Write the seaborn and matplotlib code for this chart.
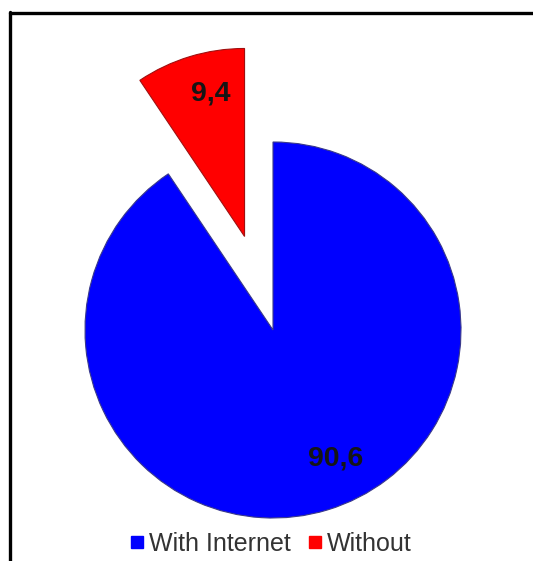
import numpy as np
import matplotlib
matplotlib.use("Agg")
import matplotlib.pyplot as plt
from matplotlib.lines import Line2D
import seaborn as sns

categories = ["With Internet", "Without"]
values = [90.6, 9.4]
colors = ["#0000FF", "#FF0000"]
explode = [0.0, 0.52]

sns.set_theme(style="white")
plt.rcParams["font.family"] = ["Liberation Sans", "DejaVu Sans"]

W, H = 533, 561
fig = plt.figure(figsize=(W / 100, H / 100), dpi=100)
ax = fig.add_axes([0, 0, 1, 1])
ax.set_axis_off()

wedges, texts, autotexts = ax.pie(
    values, colors=colors, explode=explode, startangle=90, counterclock=False,
    radius=1.0, autopct=lambda p: f"{p:.1f}".replace(".", ","), pctdistance=0.77,
    wedgeprops=dict(linewidth=0.8, edgecolor="#3a3a8a"),
    textprops=dict(fontsize=20.5, fontweight="bold", color="#151515"),
)
wedges[1].set_edgecolor("#a01010")

cx, cy, R = 273.0, 330.0, 188.0
ax.set_aspect("auto")
ax.set_xlim(-cx / R, (W - cx) / R)
ax.set_ylim(-(H - cy) / R, cy / R)

# nudge labels toward their visual positions as in the reference
for w, t, dang, dist in zip(wedges, autotexts, [9, -3.5], [0.76, 0.78]):
    ang = np.deg2rad((w.theta1 + w.theta2) / 2 + dang)
    ox, oy = w.center
    t.set_position((ox + dist * np.cos(ang), oy + dist * np.sin(ang)))

handles = [Line2D([0], [0], marker="s", linestyle="", markersize=8,
                  markerfacecolor=c, markeredgecolor=c) for c in colors]
fig.legend(handles, categories, loc="center", bbox_to_anchor=(271 / W, 1 - 544 / H),
           ncol=2, frameon=False, fontsize=18, handlelength=0.55, handletextpad=0.2,
           columnspacing=0.7, labelcolor="#333333", borderpad=0)

fig.add_artist(Line2D([9.5 / W, 1.0], [1 - 13 / H, 1 - 13 / H], color="black", lw=2.4,
                      transform=fig.transFigure))
fig.add_artist(Line2D([10 / W, 10 / W], [0, 1 - 12 / H], color="black", lw=2.4,
                      transform=fig.transFigure))

fig.savefig("out.png", dpi=100)
